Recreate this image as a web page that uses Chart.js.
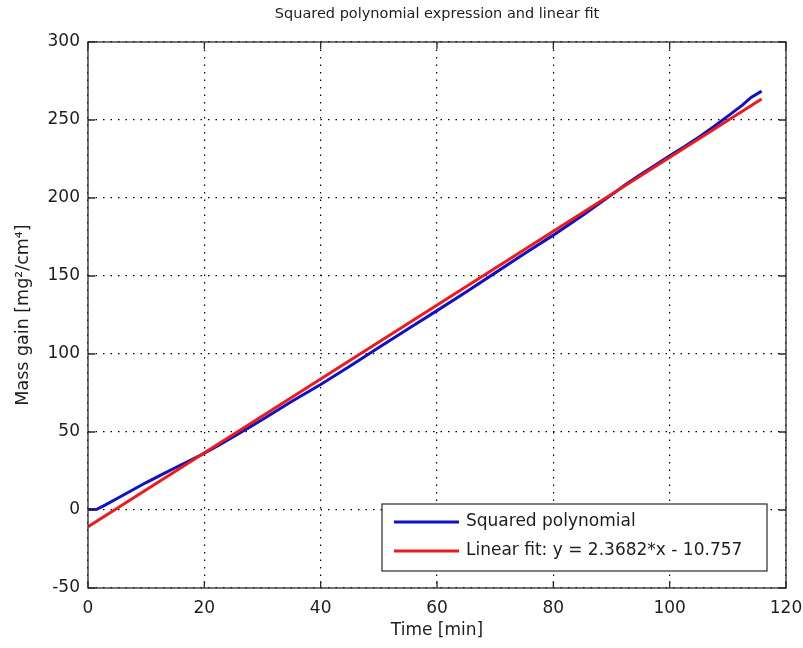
<!DOCTYPE html>
<html>
<head>
<meta charset="utf-8">
<script src="https://cdn.jsdelivr.net/npm/chart.js@4.4.1/dist/chart.umd.min.js"></script>
<style>
  html, body { margin: 0; padding: 0; background: #fff; }
  #wrap { width: 803px; height: 648px; }
</style>
</head>
<body>
<div id="wrap"><canvas id="chart" width="803" height="648"></canvas></div>
<script>
/* Squared polynomial vs linear fit, MATLAB-style figure */

var FONT = "'DejaVu Sans', sans-serif";
var INK = '#1e1e1e';
var COLORS = { poly: '#1010c4', fit: '#ee1a1a' };

var TITLE = 'Squared polynomial expression and linear fit';
var X_LABEL = 'Time [min]';
var Y_LABEL = 'Mass gain [mg\u00b2/cm\u2074]';
var SERIES_LABELS = ['Squared polynomial', 'Linear fit: y = 2.3682*x - 10.757'];

/* axis ticks */
var xTickValues = [0, 20, 40, 60, 80, 100, 120];
var yTickValues = [-50, 0, 50, 100, 150, 200, 250, 300];

/* squared polynomial */
var polyTime = [0, 1.5, 3, 5, 7.5, 10, 12.5, 15, 17.5, 20, 22.5, 25, 27.5, 30, 35, 40, 45, 50, 55, 60,
                65, 70, 75, 80, 85, 90, 92.5, 95, 97.5, 100, 102.5, 105, 107.5, 110, 112.5, 114, 115.8];
var polyMass = [0.3, 0.5, 3.3, 7.4, 12.5, 17.6, 22.4, 27.1, 31.7, 36.4, 41.5, 47, 52.5, 58, 69.5, 80.5, 92.2, 104.2, 116, 127.8,
                139.8, 152, 164.2, 176.2, 188.8, 202, 208.8, 215, 221, 227, 232.8, 239, 245.5, 252.5, 259.5, 264.5, 268.5];

/* linear fit end points */
var fitTime = [0, 115.8];
var fitMass = [-10.757, 263.5];

function toPoints(xs, ys) {
  return xs.map(function(x, i) { return { x: x, y: ys[i] }; });
}

/* title, axes box with inward ticks, and the boxed legend */
var matlabFrame = {
  id: 'matlabFrame',
  afterDraw: function(chart) {
    var ctx = chart.ctx, a = chart.chartArea;
    var sx = chart.scales.x, sy = chart.scales.y;
    var TICK = 7;
    ctx.save();

    ctx.fillStyle = INK;
    ctx.font = '14.5px ' + FONT;
    ctx.textAlign = 'center';
    ctx.textBaseline = 'middle';
    ctx.fillText(TITLE, (a.left + a.right) / 2, 14);

    ctx.strokeStyle = '#2a2a2a';
    ctx.lineWidth = 1.3;
    ctx.strokeRect(a.left, a.top, a.right - a.left, a.bottom - a.top);

    ctx.beginPath();
    xTickValues.forEach(function(v) {
      var px = sx.getPixelForValue(v);
      ctx.moveTo(px, a.bottom); ctx.lineTo(px, a.bottom - TICK);
      ctx.moveTo(px, a.top); ctx.lineTo(px, a.top + TICK);
    });
    yTickValues.forEach(function(v) {
      var py = sy.getPixelForValue(v);
      ctx.moveTo(a.left, py); ctx.lineTo(a.left + TICK, py);
      ctx.moveTo(a.right, py); ctx.lineTo(a.right - TICK, py);
    });
    ctx.stroke();

    // legend box, lower right
    var bx = 382, by = 504, bw = 385, bh = 67;
    ctx.fillStyle = '#fff';
    ctx.fillRect(bx, by, bw, bh);
    ctx.lineWidth = 1.2;
    ctx.strokeStyle = '#2a2a2a';
    ctx.strokeRect(bx, by, bw, bh);
    var rows = [by + 18, by + 47];
    var cols = [COLORS.poly, COLORS.fit];
    ctx.font = '17px ' + FONT;
    ctx.textAlign = 'left';
    rows.forEach(function(ry, i) {
      ctx.strokeStyle = cols[i];
      ctx.lineWidth = 3;
      ctx.beginPath();
      ctx.moveTo(bx + 12, ry); ctx.lineTo(bx + 77, ry);
      ctx.stroke();
      ctx.fillStyle = INK;
      ctx.fillText(SERIES_LABELS[i], bx + 84, ry);
    });
    ctx.restore();
  }
};

new Chart(document.getElementById('chart'), {
  type: 'line',
  data: {
    datasets: [
      { label: SERIES_LABELS[0], data: toPoints(polyTime, polyMass), borderColor: COLORS.poly, borderWidth: 3,
        pointRadius: 0, tension: 0, fill: false, order: 1 },
      { label: SERIES_LABELS[1], data: toPoints(fitTime, fitMass), borderColor: COLORS.fit, borderWidth: 3,
        pointRadius: 0, tension: 0, fill: false, order: 0 }
    ]
  },
  plugins: [matlabFrame],
  options: {
    responsive: false, animation: false,
    layout: { padding: { top: 42, right: 17, left: 0, bottom: 0 } },
    plugins: { legend: { display: false }, tooltip: { enabled: false }, title: { display: false } },
    scales: {
      x: {
        type: 'linear', min: xTickValues[0], max: xTickValues[xTickValues.length - 1],
        afterFit: function(s) { s.height = 60; s.paddingLeft = 0; s.paddingRight = 17; },
        ticks: { stepSize: 20, color: INK, font: { family: FONT, size: 17 }, padding: 10, maxRotation: 0, autoSkip: false },
        grid: { color: '#000', lineWidth: 1.2, drawTicks: false },
        border: { display: false, dash: [1.5, 6] },
        title: { display: true, text: X_LABEL, color: INK, font: { family: FONT, size: 17 }, padding: { top: 0, bottom: 7 } }
      },
      y: {
        type: 'linear', min: yTickValues[0], max: yTickValues[yTickValues.length - 1],
        afterFit: function(s) { s.width = 88; },
        ticks: { stepSize: 50, color: INK, font: { family: FONT, size: 17 }, padding: 8, autoSkip: false },
        grid: { color: '#000', lineWidth: 1.2, drawTicks: false },
        border: { display: false, dash: [1.5, 6] },
        title: { display: true, text: Y_LABEL, color: INK, font: { family: FONT, size: 17.5 }, padding: { top: 13, bottom: 0 } }
      }
    }
  }
});
</script>
</body>
</html>
